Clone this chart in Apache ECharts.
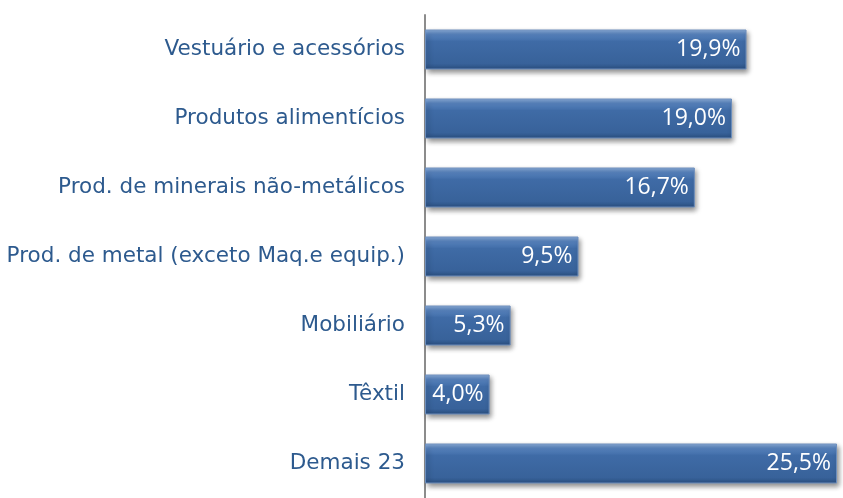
<!DOCTYPE html>
<html>
<head>
<meta charset="utf-8">
<script src="https://cdn.jsdelivr.net/npm/echarts@6/dist/echarts.min.js"></script>
<style>
  html, body { margin: 0; padding: 0; background: #fff; }
  #chart { width: 843px; height: 498px; }
</style>
</head>
<body>
<div id="chart"></div>
<script>
// setores, de cima para baixo
const categories = [
  'Vestuário e acessórios',
  'Produtos alimentícios',
  'Prod. de minerais não-metálicos',
  'Prod. de metal (exceto Maq.e equip.)',
  'Mobiliário',
  'Têxtil',
  'Demais 23'
];
const values = [19.9, 19.0, 16.7, 9.5, 5.3, 4.0, 25.5];

let myChart = echarts.init(document.getElementById('chart'));

let option = {
  animation: false,
  grid: {
    left: 425,
    width: 412,
    top: 15,
    bottom: -5
  },
  xAxis: {
    type: 'value',
    min: 0,
    max: 25.5,
    show: false
  },
  yAxis: {
    type: 'category',
    inverse: true,
    data: categories,
    axisLine: { show: true, lineStyle: { color: '#8c8c8c', width: 2 } },
    axisTick: { show: false },
    axisLabel: {
      margin: 20,
      color: '#2d5a8e',
      fontFamily: 'DejaVu Sans',
      fontSize: 21.5
    }
  },
  series: [
    {
      type: 'bar',
      data: values,
      barWidth: 40,
      label: {
        show: true,
        position: 'insideRight',
        offset: [-1, 0],
        color: '#fff',
        fontFamily: 'Open Sans',
        fontSize: 23,
        formatter: p => p.value.toFixed(1).replace('.', ',') + '%'
      },
      itemStyle: {
        // degradê com borda clara em cima
        color: new echarts.graphic.LinearGradient(0, 0, 0, 1, [
          { offset: 0, color: '#8fb0dc' },
          { offset: 0.12, color: '#5a86c2' },
          { offset: 0.3, color: '#3f6ba6' },
          { offset: 0.85, color: '#38629a' },
          { offset: 1, color: '#2a4f80' }
        ]),
        borderColor: '#6e8fbd',
        borderWidth: 1,
        shadowColor: 'rgba(0,0,0,0.45)',
        shadowBlur: 5,
        shadowOffsetX: 2,
        shadowOffsetY: 3
      }
    }
  ]
};

myChart.setOption(option);
</script>
</body>
</html>
